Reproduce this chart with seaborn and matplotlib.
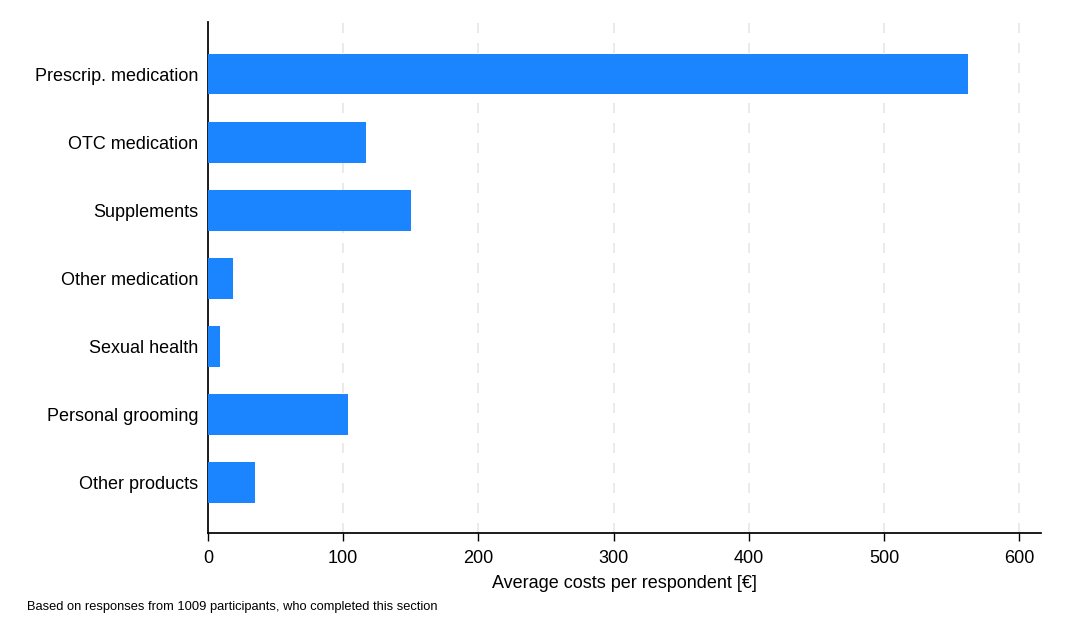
import matplotlib
matplotlib.use("Agg")
import matplotlib.pyplot as plt
import seaborn as sns
import pandas as pd

categories = ['Prescrip. medication', 'OTC medication', 'Supplements', 'Other medication',
              'Sexual health', 'Personal grooming', 'Other products']
avg_costs = [562, 117, 150, 18.5, 9, 103.5, 35]
x_ticks = [0, 100, 200, 300, 400, 500, 600]

sns.set_theme(style='white')
plt.rcParams['font.family'] = ['Liberation Sans', 'DejaVu Sans']
plt.rcParams['text.color'] = 'black'
plt.rcParams['xtick.color'] = 'black'
plt.rcParams['ytick.color'] = 'black'
plt.rcParams['axes.labelcolor'] = 'black'

df = pd.DataFrame({'category': categories, 'cost': avg_costs})

fig = plt.figure(figsize=(10.65, 6.39), dpi=100)
ax = fig.add_axes([0.1953, 0.1659, 0.7822, 0.7997])
sns.barplot(data=df, x='cost', y='category', color='#1a85ff', saturation=1,
            width=0.6, linewidth=0, ax=ax, zorder=3)

ax.set_xlim(0, 616)
ax.set_ylim(6.74, -0.764)
ax.set_xticks(x_ticks)
for t in x_ticks[1:]:
    ax.axvline(t, color='#e6e6e6', linestyle=(0, (6, 6)), linewidth=1.2, zorder=1)

ax.spines['top'].set_visible(False)
ax.spines['right'].set_visible(False)
ax.spines['left'].set_color('black')
ax.spines['bottom'].set_color('black')
ax.tick_params(axis='x', bottom=True, length=6, width=1, labelsize=13, pad=6)
ax.tick_params(axis='y', left=False, labelsize=13, pad=1)
ax.set_ylabel('')
ax.set_xlabel('Average costs per respondent [€]', fontsize=13, labelpad=6)

fig.text(27 / 1065, 1 - 610 / 639, 'Based on responses from 1009 participants, who completed this section',
         fontsize=9.3, va='baseline', ha='left')

fig.savefig('out.png', dpi=100)
